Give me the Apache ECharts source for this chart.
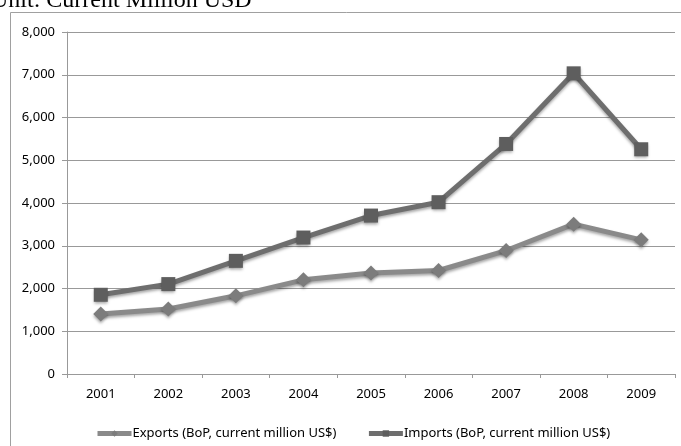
<!DOCTYPE html>
<html>
<head>
<meta charset="utf-8">
<script src="https://cdn.jsdelivr.net/npm/echarts@6/dist/echarts.min.js"></script>
<style>
  html, body { margin: 0; padding: 0; background: #fff; }
  #chart { width: 681px; height: 446px; }
</style>
</head>
<body>
<div id="chart"></div>
<script>
// Trade flows, current million USD
const years = ['2001', '2002', '2003', '2004', '2005', '2006', '2007', '2008', '2009'];
const exportsBoP = [1402, 1519, 1829, 2203, 2360, 2421, 2888, 3505, 3138];
const importsBoP = [1853, 2103, 2647, 3192, 3706, 4019, 5381, 7033, 5257];
const yTicks = [0, 1000, 2000, 3000, 4000, 5000, 6000, 7000, 8000];

const exportsName = 'Exports (BoP, current million US$)';
const importsName = 'Imports (BoP, current million US$)';

const labelFont = '"Noto Sans", sans-serif';
const shadow = { shadowBlur: 3, shadowOffsetY: 2, shadowColor: 'rgba(0,0,0,0.35)' };

const chart = echarts.init(document.getElementById('chart'), null, { renderer: 'canvas' });

chart.setOption({
  animation: false,
  backgroundColor: '#fff',
  graphic: [
    {
      type: 'rect',
      shape: { x: 10.5, y: 12.5, width: 700, height: 460 },
      style: { fill: 'none', stroke: '#a0a0a0', lineWidth: 1 },
      silent: true,
      z: 0
    },
    {
      type: 'text',
      x: -9,
      y: 13,
      style: {
        text: 'Unit: Current Million USD',
        font: '24px "Liberation Serif", serif',
        fill: '#000',
        verticalAlign: 'bottom'
      },
      silent: true
    }
  ],
  grid: { left: 67, right: 6, top: 32, bottom: 72, containLabel: false },
  legend: {
    left: 90,
    top: 422,
    itemWidth: 34,
    itemHeight: 8,
    itemGap: 30,
    lineStyle: { width: 5 },
    textStyle: { fontFamily: labelFont, fontSize: 13, color: '#000', padding: [0, 0, 0, -4] },
    data: [exportsName, importsName]
  },
  xAxis: {
    type: 'category',
    data: years,
    boundaryGap: true,
    axisLine: { lineStyle: { color: '#999', width: 1 } },
    axisTick: { show: true, length: 4, alignWithLabel: false, lineStyle: { color: '#999' } },
    axisLabel: { margin: 14, fontFamily: labelFont, fontSize: 13, color: '#000' },
    splitLine: { show: false }
  },
  yAxis: {
    type: 'value',
    min: yTicks[0],
    max: yTicks[yTicks.length - 1],
    interval: yTicks[1] - yTicks[0],
    axisLine: { show: true, lineStyle: { color: '#999', width: 1 } },
    axisTick: { show: true, length: 5, lineStyle: { color: '#999' } },
    axisLabel: {
      margin: 12,
      fontFamily: labelFont,
      fontSize: 13,
      color: '#000',
      formatter: v => v.toLocaleString('en-US')
    },
    splitLine: { show: true, lineStyle: { color: '#999', width: 1 } }
  },
  series: [
    {
      name: exportsName,
      type: 'line',
      data: exportsBoP,
      symbol: 'diamond',
      symbolSize: 15,
      color: '#8a8a8a',
      lineStyle: Object.assign({ width: 5, color: '#8a8a8a' }, shadow),
      itemStyle: Object.assign({ color: '#7c7c7c' }, shadow),
      z: 2
    },
    {
      name: importsName,
      type: 'line',
      data: importsBoP,
      symbol: 'rect',
      symbolSize: 14,
      color: '#6e6e6e',
      lineStyle: Object.assign({ width: 5, color: '#6e6e6e' }, shadow),
      itemStyle: Object.assign({ color: '#5e5e5e' }, shadow),
      z: 3
    }
  ]
});
</script>
</body>
</html>
